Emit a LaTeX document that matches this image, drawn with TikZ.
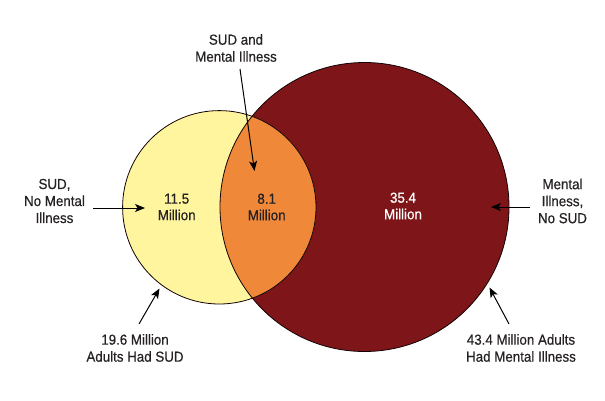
\documentclass[tikz,border=0pt]{standalone}
\usepackage{fontspec}
\setmainfont{Liberation Sans}[FakeStretch=0.92,FakeBold=0.5]
\usetikzlibrary{arrows.meta}
\definecolor{sudyellow}{HTML}{FEF59E}
\definecolor{bothorange}{HTML}{EF8838}
\definecolor{mired}{HTML}{7E1619}
\definecolor{inkgray}{HTML}{262223}
\tikzset{
  lbl/.style={align=center, text=inkgray, font=\fontsize{14.5}{17}\selectfont, inner sep=0pt},
  num/.style={align=center, font=\fontsize{14.5}{16.5}\selectfont, inner sep=0pt},
  pointer/.style={draw=black, line width=1pt, -{Stealth[length=10pt,width=8pt,inset=2.5pt]}},
  rim/.style={draw=black!85!mired, line width=0.8pt}
}
\begin{document}
\begin{tikzpicture}[x=1pt,y=-1pt]
\useasboundingbox (0,0) rectangle (605,400);
% circles
\coordinate (cy) at (219.3,207.3);
\coordinate (cr) at (364.5,207);
\fill[mired] (cr) circle[radius=144.5];
\fill[sudyellow] (cy) circle[radius=96.7];
\begin{scope}
  \clip (cr) circle[radius=144.5];
  \fill[bothorange] (cy) circle[radius=96.7];
\end{scope}
\draw[rim] (cy) circle[radius=96.7];
\draw[rim] (cr) circle[radius=144.5];
% numbers
\node[num, text=inkgray] (n1) at (176.7,207) {11.5\\Million};
\node[num, text=inkgray] (n2) at (266.7,207) {8.1\\Million};
\node[num, text=white] (n3) at (403,206) {35.4\\Million};
% labels
\node[lbl] (lblL) at (54.5,201) {SUD,\\No Mental\\Illness};
\node[lbl] (lblR) at (562.5,201) {Mental\\Illness,\\No SUD};
\node[lbl] (lblT) at (236,48) {SUD and\\Mental Illness};
\node[lbl] (lblBL) at (135,348) {19.6 Million\\Adults Had SUD};
\node[lbl] (lblBR) at (521,348) {43.4 Million Adults\\Had Mental Illness};
% arrow ends
\coordinate (tL) at (145,208);
\coordinate (tR) at (491,207);
\coordinate (tT) at (254.5,171);
\coordinate (tBL) at (159.5,288.5);
\coordinate (tBR) at (489.5,287.5);
\draw[pointer] (lblL.east |- tL) ++(8,0) -- (tL);
\draw[pointer] (lblR.west |- tR) ++(-8,0) -- (tR);
\draw[pointer] (lblT.south) ++(4,7) -- (tT);
\draw[pointer] (lblBL.north) ++(4,-10) -- (tBL);
\draw[pointer] (lblBR.north) ++(-12,-10) -- (tBR);
\end{tikzpicture}
\end{document}
